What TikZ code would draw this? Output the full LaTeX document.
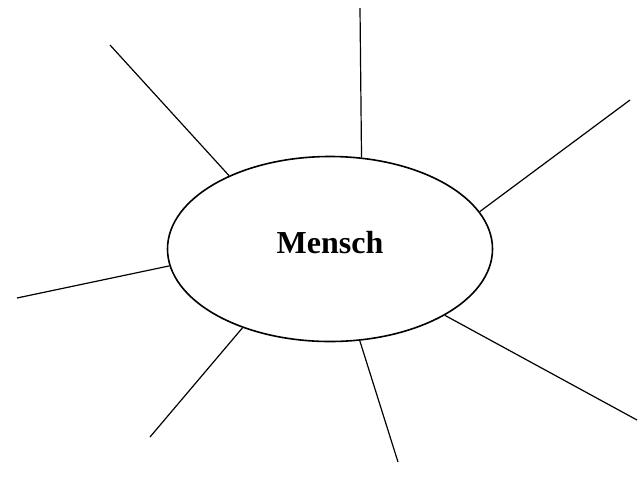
\documentclass[tikz,border=0pt]{standalone}
\usepackage{fontspec}
\setmainfont{Liberation Serif}
\usepackage{xcolor}
\usetikzlibrary{shapes.geometric}
\definecolor{ink}{HTML}{000000}
\tikzset{
  hub/.style={draw=ink,line width=1.6pt,ellipse,minimum width=325pt,
              minimum height=185pt,inner sep=0pt,text depth=14pt,
              font=\fontsize{32}{38}\selectfont\bfseries},
  ray/.style={draw=ink,line width=1.2pt}
}
\begin{document}
\begin{tikzpicture}[x=1pt,y=-1pt]
  \useasboundingbox (0,0) rectangle (640,491);
  \node[hub] (mensch) at (330,249) {Mensch};
  \coordinate (nw) at (110,45);
  \coordinate (n)  at (360,8);
  \coordinate (ne) at (630,100);
  \coordinate (w)  at (17,298);
  \coordinate (sw) at (150,437);
  \coordinate (s)  at (398,462);
  \coordinate (se) at (637,420);
  \draw[ray] (mensch.144.2) -- (nw);
  \draw[ray] (mensch.71.9)  -- (n);
  \draw[ray] (mensch.14.5)  -- (ne);
  \draw[ray] (mensch.186.3) -- (w);
  \draw[ray] (mensch.222.9) -- (sw);
  \draw[ray] (mensch.288)   -- (s);
  \draw[ray] (mensch.330)   -- (se);
\end{tikzpicture}
\end{document}
